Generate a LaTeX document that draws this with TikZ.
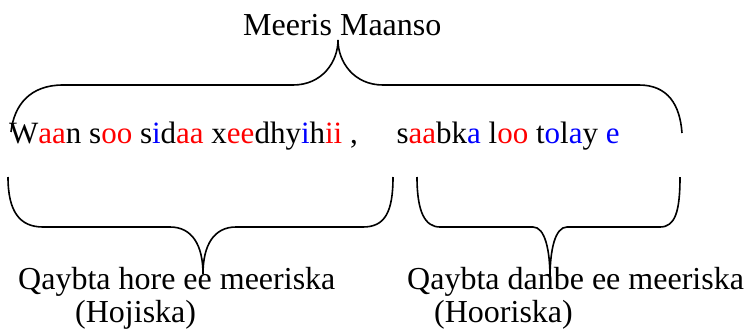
\documentclass[tikz,border=0pt]{standalone}
\usepackage{fontspec}
\setmainfont{Liberation Serif}
\definecolor{sred}{RGB}{255,0,0}
\definecolor{sblue}{RGB}{0,0,255}
\newcommand{\R}[1]{\textcolor{sred}{#1}}
\newcommand{\B}[1]{\textcolor{sblue}{#1}}
\begin{document}
\begin{tikzpicture}[x=1pt,y=-1pt,
  lbl/.style={font=\fontsize{32}{35}\selectfont, inner sep=0pt, anchor=base west},
  brace/.style={line width=1.6pt}]
\useasboundingbox (0,0) rectangle (745,335);
\node[lbl] (top) at (243,35) {Meeris Maanso};
\node[lbl, font=\fontsize{31}{35}\selectfont] (line) at (9,143) {W\R{aa}n s\R{oo} s\B{i}d\R{aa} x\R{ee}dhy\B{i}h\R{ii} ,\ \ \ \ \ s\R{aa}bk\B{a} l\R{oo} t\B{o}l\B{a}y \B{e}};
\node[lbl] (l1) at (18,289) {Qaybta hore ee meeriska};
\node[lbl] (l2) at (75,322) {(Hojiska)};
\node[lbl] (r1) at (407,289) {Qaybta danbe ee meeriska};
\node[lbl] (r2) at (434,322) {(Hooriska)};
\coordinate (tt) at (338,40);
\coordinate (bl) at (203,274);
\coordinate (br) at (550,278);
\draw[brace] (11,132) .. controls (14,105) and (30,85) .. (63,85) -- (293,85)
  .. controls (322,85) and (338,62) .. (tt)
  .. controls (338,62) and (354,85) .. (383,85) -- (639,85)
  .. controls (668,85) and (680,105) .. (682,133);
\draw[brace] (8,177) .. controls (8,212) and (20,227) .. (43,227) -- (170,227)
  .. controls (192,227) and (203,245) .. (bl)
  .. controls (203,245) and (214,227) .. (236,227) -- (363,227)
  .. controls (385,227) and (393,212) .. (393,177);
\draw[brace] (417,177) .. controls (417,212) and (425,227) .. (440,227) -- (533,227)
  .. controls (545,227) and (550,250) .. (br)
  .. controls (550,250) and (555,227) .. (567,227) -- (660,227)
  .. controls (675,227) and (680,212) .. (680,177);
\end{tikzpicture}
\end{document}
